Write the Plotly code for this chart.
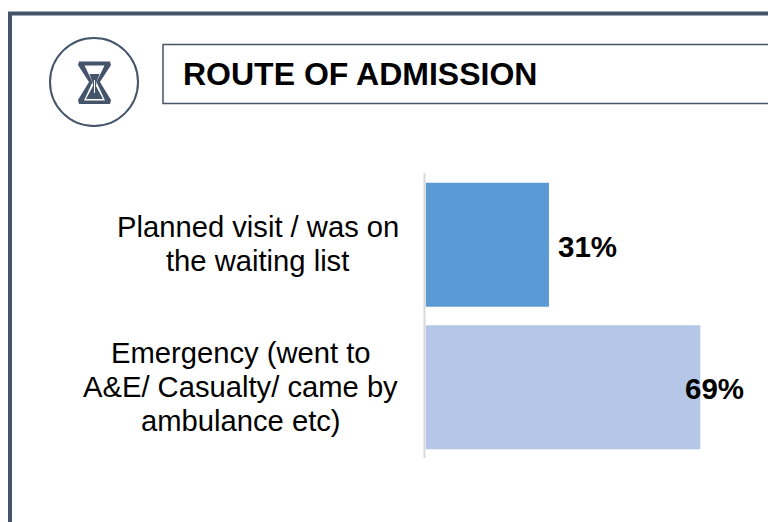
import plotly.graph_objects as go

categories = ["Planned visit / was on<br>the waiting list",
              "Emergency (went to<br>A&E/ Casualty/ came by<br>ambulance etc)"]
values = [31, 69]
labels = ["31%", "69%"]
bar_colors = ["#5B9BD5", "#B4C7E7"]
label_shifts = [7, -17]
cat_centers = [-168, -185]

W, H = 768, 522
DARK = "#44546A"
FONT = "Liberation Sans, Arial, sans-serif"

def X(p): return p / W
def Y(p): return 1 - p / H

def poly(points, fill, line=None, width=0):
    d = "M" + " L".join(f"{X(a):.5f},{Y(b):.5f}" for a, b in points) + " Z"
    return dict(type="path", xref="paper", yref="paper", path=d, fillcolor=fill,
                line=dict(color=line or fill, width=width), layer="above")

fig = go.Figure(go.Bar(
    x=values, y=categories, orientation="h", width=0.87,
    marker=dict(color=bar_colors, line=dict(width=0)), hoverinfo="skip",
))

shapes = [
    # outer frame
    dict(type="rect", xref="paper", yref="paper", x0=X(10), x1=X(790), y0=Y(560), y1=Y(13.5),
         line=dict(color=DARK, width=4), fillcolor="rgba(0,0,0,0)", layer="below"),
    # title box
    dict(type="rect", xref="paper", yref="paper", x0=X(163), x1=X(790), y0=Y(103.5), y1=Y(44.5),
         line=dict(color=DARK, width=1.5), fillcolor="#FFFFFF", layer="below"),
    # icon circle
    dict(type="circle", xref="paper", yref="paper", x0=X(50), x1=X(138), y0=Y(126), y1=Y(38),
         line=dict(color=DARK, width=2), fillcolor="#FFFFFF", layer="below"),
    # hourglass
    poly([(79, 61.5), (110, 61.5), (111, 65), (100, 82), (111, 100), (110, 104), (79, 104), (78, 100), (89, 82), (78, 65)], DARK),
    poly([(84.5, 65.5), (104.5, 65.5), (96.5, 82), (105, 100.5), (84, 100.5), (92.5, 82)], "#FFFFFF"),
    poly([(89.5, 74), (99.5, 74), (96.5, 82), (96, 86), (103, 99), (86, 99), (93, 86), (92.5, 82)], DARK),
    poly([(94, 80), (95, 80), (95, 93), (94, 93)], "#FFFFFF"),
]

annotations = []
for c, center in zip(categories, cat_centers):
    lines = c.split("<br>")
    for i, line in enumerate(lines):
        annotations.append(dict(
            x=0, y=c, xref="x", yref="y", text=line, showarrow=False, xanchor="center",
            xshift=center, yshift=-(i - (len(lines) - 1) / 2) * 34 + (0.5 if len(lines) == 2 else 0),
            font=dict(family=FONT, size=29.2, color="#000000")))
annotations += [
    dict(x=v, y=c, xref="x", yref="y", text=t, showarrow=False, xanchor="left", xshift=s, yshift=-1.5,
         font=dict(family=FONT, size=29.5, color="#000000", weight="bold"))
    for v, c, t, s in zip(values, categories, labels, label_shifts)
] + [
    dict(x=X(180.5), y=Y(74), xref="paper", yref="paper", text="ROUTE OF ADMISSION", showarrow=False,
         xanchor="left", yanchor="middle", font=dict(family=FONT, size=32, color="#000000", weight="bold"))
]

fig.update_layout(
    width=W, height=H, margin=dict(l=0, r=0, t=0, b=0, pad=0),
    paper_bgcolor="#FFFFFF", plot_bgcolor="rgba(0,0,0,0)", showlegend=False,
    xaxis=dict(domain=[X(425.5), 1], range=[0, 86], visible=False),
    yaxis=dict(domain=[Y(458.5), Y(173.5)], autorange="reversed", showticklabels=False, ticks="",
               showgrid=False, zeroline=False, showline=False),
    shapes=shapes, annotations=annotations,
)
fig.add_shape(type="line", xref="paper", yref="paper", x0=X(424.5), x1=X(424.5), y0=Y(458), y1=Y(173),
              line=dict(color="#D9D9D9", width=2))
fig.write_html("out.html", config=dict(displayModeBar=False),
               post_script="document.body.style.margin='0';document.body.style.overflow='hidden';")
